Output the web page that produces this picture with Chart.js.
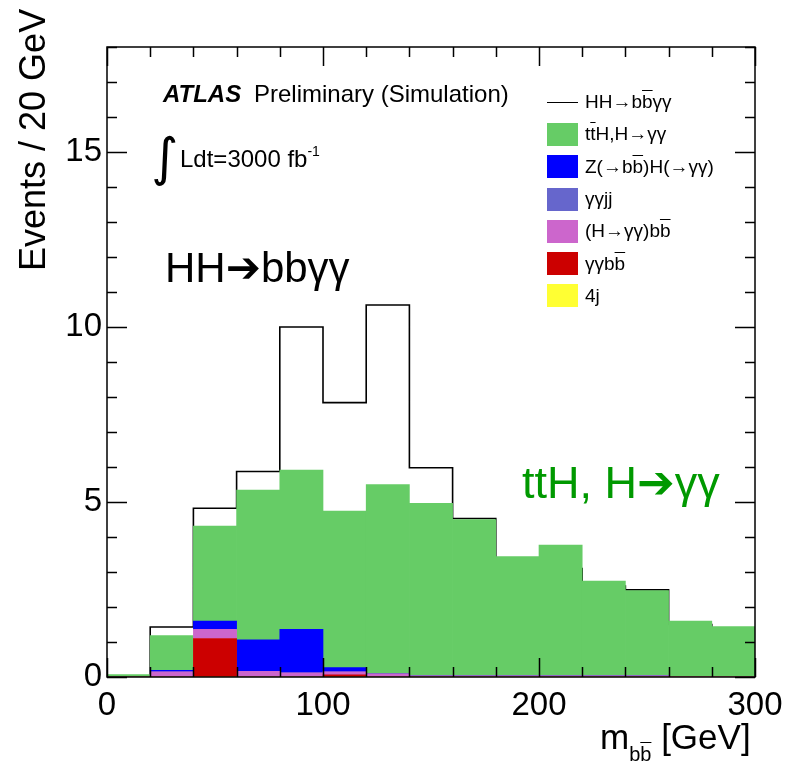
<!DOCTYPE html>
<html>
<head>
<meta charset="utf-8">
<title>HH → bbγγ – m_bb distribution</title>
<script src="https://cdn.jsdelivr.net/npm/chart.js@4.4.1/dist/chart.umd.min.js"></script>
<style>
  html, body { margin: 0; padding: 0; background: #fff; }
  #wrap {
    position: relative; width: 787px; height: 764px; overflow: hidden;
    font-family: 'Liberation Sans', Arial, Helvetica, sans-serif; color: #000;
  }
  #wrap canvas { position: absolute; left: 0; top: 0; }
  .txt { position: absolute; white-space: nowrap; line-height: 1; }
  .ob { text-decoration: overline; text-decoration-thickness: 1px; }
  .arrow { font-family: 'DejaVu Sans', sans-serif; }
  #legend { position: absolute; left: 547px; top: 86px; }
  .leg-row { position: relative; height: 32.3px; display: flex; align-items: center; }
  .leg-sw { width: 31px; height: 23px; margin-right: 7px; flex: none; }
  .leg-line { width: 31px; height: 0; border-top: 1.5px solid #000; margin-right: 7px; flex: none; }
  .leg-txt { font-size: 19px; white-space: nowrap; }
</style>
</head>
<body>
<div id="wrap">
  <canvas id="chart-mbb" width="787" height="764"></canvas>

  <div class="txt" style="left:163px; top:82px; font-size:24px; font-weight:bold; font-style:italic;">ATLAS</div>
  <div class="txt" style="left:254px; top:82px; font-size:24px;">Preliminary (Simulation)</div>

  <div class="txt" style="left:151px; top:131px; font-size:52px; font-family:'DejaVu Sans',sans-serif;">∫</div>
  <div class="txt" style="left:180px; top:146px; font-size:24px;">Ldt=3000 fb<sup style="font-size:14px; position:relative; top:-2px;">-1</sup></div>

  <div class="txt" style="left:165px; top:247px; font-size:42px;">HH<span class="arrow">➔</span>bbγγ</div>
  <div class="txt" style="left:522px; top:460px; font-size:45px; color:#009900;">ttH, H<span class="arrow">➔</span>γγ</div>

  <div class="txt" style="left:15px; top:271px; font-size:36px; transform-origin:0 0; transform:rotate(-90deg);">Events / 20 GeV</div>
  <div class="txt" style="left:600px; top:719px; font-size:35px;">m<sub style="font-size:20px; position:relative; top:4px;">b<span class="ob">b</span></sub> [GeV]</div>

  <div id="legend"></div>
</div>

<script>
/* ── Data (bins of 20 GeV in m_bb) ─────────────────────────── */
const binEdges = [0, 20, 40, 60, 80, 100, 120, 140, 160, 180, 200, 220, 240, 260, 280, 300];
const hhSignal = [0, 1.43, 4.82, 5.87, 10.0, 7.84, 10.63, 5.98, 4.53, 3.3, 3.1, 2.6, 2.49, 1.5, 1.2];
const ttH      = [0.07, 0.99, 2.71, 4.28, 4.55, 4.47, 5.41, 4.93, 4.47, 3.41, 3.74, 2.71, 2.44, 1.58, 1.42];
const zH       = [0, 0.04, 0.24, 0.9, 1.24, 0.12, 0, 0, 0, 0, 0, 0, 0, 0, 0];
const yyjj     = [0, 0, 0, 0, 0, 0, 0, 0, 0, 0, 0, 0, 0, 0, 0];
const hyyBB    = [0, 0.15, 0.26, 0.16, 0.12, 0.09, 0.09, 0.03, 0.03, 0.03, 0.03, 0.03, 0.03, 0.02, 0.02];
const yyBB     = [0, 0, 1.1, 0, 0, 0.06, 0, 0, 0, 0, 0, 0, 0, 0, 0];
const fourJ    = [0, 0, 0, 0, 0, 0, 0, 0, 0, 0, 0, 0, 0, 0, 0];
const xTicks   = [0, 100, 200, 300];
const yTicks   = [0, 5, 10, 15];

(function () {
  'use strict';

  const FONT = "'Liberation Sans', Arial, Helvetica, sans-serif";

  /* ── Helpers ─────────────────────────────────────────────── */
  const centres = binEdges.slice(0, -1).map((e, i) => (e + binEdges[i + 1]) / 2);
  const toBars = vals => vals.map((v, i) => ({ x: centres[i], y: v }));
  // step line: left edge of every bin, closing point at the last edge
  const hhSteps = binEdges.map((e, i) => ({ x: e, y: i < hhSignal.length ? hhSignal[i] : 0 }));

  /* stacked backgrounds, bottom → top */
  const stack = [
    { key: '4j',   label: '4j',                                   data: fourJ, color: '#ffff33' },
    { key: 'yybb', label: 'γγb<span class="ob">b</span>',         data: yyBB,  color: '#cc0000' },
    { key: 'hyy',  label: '(H→γγ)b<span class="ob">b</span>',     data: hyyBB, color: '#cc66cc' },
    { key: 'yyjj', label: 'γγjj',                                 data: yyjj,  color: '#6666cc' },
    { key: 'zh',   label: 'Z(→b<span class="ob">b</span>)H(→γγ)', data: zH,    color: '#0000ff' },
    { key: 'tth',  label: 't<span class="ob">t</span>H,H→γγ',     data: ttH,   color: '#66cc66' },
  ];

  const datasets = stack.map(s => ({
    type: 'bar',
    label: s.key,
    data: toBars(s.data),
    backgroundColor: s.color,
    borderWidth: 0,
    barPercentage: 1,
    categoryPercentage: 1,
    stack: 'bkg',
    order: 0,
  }));

  datasets.push({
    type: 'line',
    label: 'hh',
    data: hhSteps,
    stepped: true,
    borderColor: '#000',
    borderWidth: 1.6,
    pointRadius: 0,
    fill: false,
    stack: 'sig',
    order: 5,   // drawn first, so the stack covers it
  });

  /* ── Frame with inward ROOT-style ticks ─────────────────── */
  const frameTicks = {
    id: 'frameTicks',
    afterDatasetsDraw(chart) {
      const { ctx, chartArea: a, scales: { x, y } } = chart;
      ctx.save();
      ctx.strokeStyle = '#000';
      ctx.lineWidth = 1.5;
      ctx.beginPath();
      for (let v = x.min; v <= x.max + 1e-6; v += 20) {
        const px = Math.round(x.getPixelForValue(v)) + 0.5;
        const len = xTicks.includes(v) ? 19 : 10;
        ctx.moveTo(px, a.bottom); ctx.lineTo(px, a.bottom - len);
        ctx.moveTo(px, a.top);    ctx.lineTo(px, a.top + len);
      }
      for (let v = y.min; v <= y.max + 1e-6; v += 1) {
        const py = Math.round(y.getPixelForValue(v)) + 0.5;
        const len = yTicks.includes(v) ? 20 : 10;
        ctx.moveTo(a.left, py);  ctx.lineTo(a.left + len, py);
        ctx.moveTo(a.right, py); ctx.lineTo(a.right - len, py);
      }
      ctx.stroke();
      ctx.strokeRect(a.left, a.top, a.right - a.left, a.bottom - a.top);
      ctx.restore();
    }
  };

  /* ── Chart ──────────────────────────────────────────────── */
  new Chart(document.getElementById('chart-mbb'), {
    data: { datasets },
    plugins: [frameTicks],
    options: {
      responsive: false,
      animation: false,
      events: [],
      layout: { padding: { top: 47, right: 32, left: 0, bottom: 0 } },
      plugins: { legend: { display: false }, tooltip: { enabled: false } },
      scales: {
        x: {
          type: 'linear',
          min: 0, max: 300,
          offset: false,
          afterFit: s => { s.height = 87; s.paddingLeft = 0; s.paddingRight = 0; },
          afterBuildTicks: s => { s.ticks = xTicks.map(v => ({ value: v })); },
          grid: { display: false, drawTicks: false, offset: false },
          border: { display: false },
          ticks: { color: '#000', padding: 9, maxRotation: 0, font: { family: FONT, size: 33 } },
        },
        y: {
          type: 'linear',
          stacked: true,
          min: 0, max: 18,
          afterFit: s => { s.width = 107; s.paddingTop = 0; s.paddingBottom = 0; },
          afterBuildTicks: s => { s.ticks = yTicks.map(v => ({ value: v })); },
          grid: { display: false, drawTicks: false },
          border: { display: false },
          ticks: { color: '#000', padding: 5, font: { family: FONT, size: 33 } },
        },
      },
    },
  });

  /* ── Legend (top right, ROOT order) ─────────────────────── */
  const legend = document.getElementById('legend');
  const rows = [{ label: 'HH→b<span class="ob">b</span>γγ', line: true }]
    .concat(stack.slice().reverse().map(s => ({ label: s.label, color: s.color })));

  rows.forEach(r => {
    const row = document.createElement('div');
    row.className = 'leg-row';
    const sw = document.createElement('div');
    if (r.line) {
      sw.className = 'leg-line';
    } else {
      sw.className = 'leg-sw';
      sw.style.background = r.color;
    }
    const txt = document.createElement('span');
    txt.className = 'leg-txt';
    txt.innerHTML = r.label;
    row.appendChild(sw);
    row.appendChild(txt);
    legend.appendChild(row);
  });
})();
</script>
</body>
</html>
